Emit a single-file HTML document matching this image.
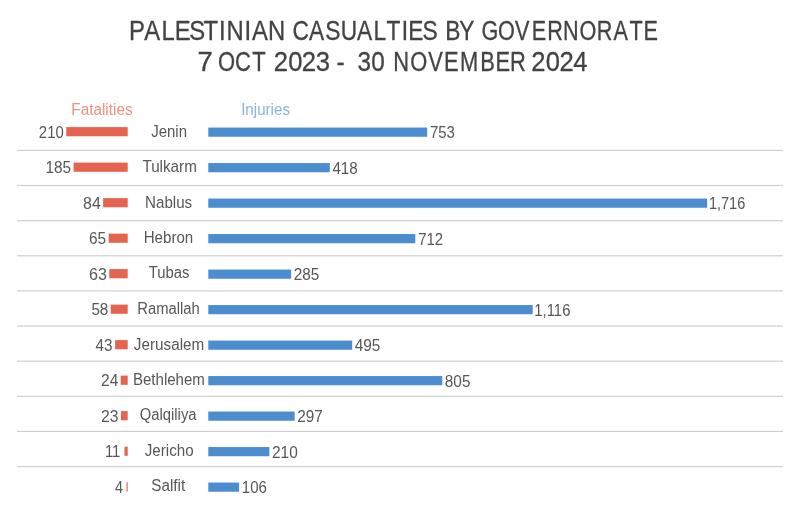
<!DOCTYPE html>
<html><head><meta charset="utf-8"><title>Palestinian casualties by governorate</title>
<style>
html,body{margin:0;padding:0;background:#fff;}
svg{display:block;}
text{font-family:"Liberation Sans",sans-serif;}
text.t{stroke:#434343;stroke-width:0.32px;stroke-linejoin:round;}
</style></head>
<body>
<svg width="799" height="508" viewBox="0 0 799 508">
<rect width="799" height="508" fill="#ffffff"/>
<text class="t" transform="translate(0,39.60) scale(0.8522,1)" x="151.27 169.29 189.61 204.94 222.22 238.71 257.13 265.92 286.82 295.85 314.56" font-size="28" fill="#434343">PALESTINIAN</text>
<text class="t" transform="translate(0,39.60) scale(0.8113,1)" x="360.67 380.76 400.98 419.93 440.11 460.43 476.51 495.25 503.28 520.79" font-size="28" fill="#434343">CASUALTIES</text>
<text class="t" transform="translate(0,39.60) scale(0.8132,1)" x="547.61 564.87" font-size="28" fill="#434343">BY</text>
<text class="t" transform="translate(0,39.60) scale(0.7724,1)" x="623.39 644.60 666.79 688.50 708.45 728.94 750.18 772.72 794.24 814.89 832.97" font-size="28" fill="#434343">GOVERNORATE</text>
<text class="t" transform="translate(0,71.00) scale(0.9812,1)" x="201.22" font-size="28" fill="#434343">7</text>
<text class="t" transform="translate(0,71.00) scale(0.7842,1)" x="277.98 299.71 321.80" font-size="28" fill="#434343">OCT</text>
<text class="t" transform="translate(0,71.00) scale(0.9154,1)" x="299.16 314.82 329.75 344.82" font-size="28" fill="#434343">2023</text>
<text class="t" transform="translate(0,71.00) scale(0.8746,1)" x="384.73" font-size="28" fill="#434343">-</text>
<text class="t" transform="translate(0,71.00) scale(0.8676,1)" x="412.06 428.01" font-size="28" fill="#434343">30</text>
<text class="t" transform="translate(0,71.00) scale(0.7814,1)" x="503.24 524.93 547.90 568.07 588.59 614.61 634.11 652.61" font-size="28" fill="#434343">NOVEMBER</text>
<text class="t" transform="translate(0,71.00) scale(0.9141,1)" x="581.31 596.99 612.16 627.12" font-size="28" fill="#434343">2024</text>
<text transform="translate(71.27,115.00) scale(0.8868,1)" font-size="17.3" fill="#ee9082">Fatalities</text>
<text transform="translate(241.14,115.00) scale(0.8764,1)" font-size="17.3" fill="#89b5df">Injuries</text>
<rect x="66.28" y="127.10" width="61.42" height="9.2" fill="#e5644f"/>
<rect x="208.3" y="127.55" width="218.90" height="9.2" fill="#4b8dce"/>
<text transform="translate(151.18,137.00) scale(0.8658,1)" font-size="17.3" fill="#575757">Jenin</text>
<text transform="translate(38.86,137.50) scale(0.8597,1)" font-size="17.3" fill="#575757">210</text>
<text transform="translate(429.95,138.00) scale(0.8661,1)" font-size="17.3" fill="#575757">753</text>
<rect x="73.59" y="162.60" width="54.11" height="9.2" fill="#e5644f"/>
<rect x="208.3" y="163.05" width="121.51" height="9.2" fill="#4b8dce"/>
<text transform="translate(142.40,171.60) scale(0.8811,1)" font-size="17.3" fill="#575757">Tulkarm</text>
<text transform="translate(45.45,173.00) scale(0.8876,1)" font-size="17.3" fill="#575757">185</text>
<text transform="translate(332.40,173.50) scale(0.8752,1)" font-size="17.3" fill="#575757">418</text>
<rect x="103.13" y="198.10" width="24.57" height="9.2" fill="#e5644f"/>
<rect x="208.3" y="198.55" width="498.84" height="9.2" fill="#4b8dce"/>
<text transform="translate(145.09,207.80) scale(0.8748,1)" font-size="17.3" fill="#575757">Nablus</text>
<text transform="translate(83.08,208.50) scale(0.9215,1)" font-size="17.3" fill="#575757">84</text>
<text transform="translate(708.91,209.00) scale(0.8410,1)" font-size="17.3" fill="#575757">1,716</text>
<rect x="108.69" y="233.60" width="19.01" height="9.2" fill="#e5644f"/>
<rect x="208.3" y="234.05" width="206.98" height="9.2" fill="#4b8dce"/>
<text transform="translate(143.69,243.40) scale(0.8740,1)" font-size="17.3" fill="#575757">Hebron</text>
<text transform="translate(89.03,244.00) scale(0.8897,1)" font-size="17.3" fill="#575757">65</text>
<text transform="translate(418.15,244.50) scale(0.8643,1)" font-size="17.3" fill="#575757">712</text>
<rect x="109.27" y="269.10" width="18.43" height="9.2" fill="#e5644f"/>
<rect x="208.3" y="269.55" width="82.85" height="9.2" fill="#4b8dce"/>
<text transform="translate(148.70,278.30) scale(0.8611,1)" font-size="17.3" fill="#575757">Tubas</text>
<text transform="translate(89.00,279.50) scale(0.9294,1)" font-size="17.3" fill="#575757">63</text>
<text transform="translate(293.63,280.00) scale(0.8882,1)" font-size="17.3" fill="#575757">285</text>
<rect x="110.73" y="304.60" width="16.96" height="9.2" fill="#e5644f"/>
<rect x="208.3" y="305.05" width="324.42" height="9.2" fill="#4b8dce"/>
<text transform="translate(137.22,314.40) scale(0.8557,1)" font-size="17.3" fill="#575757">Ramallah</text>
<text transform="translate(91.39,315.00) scale(0.8811,1)" font-size="17.3" fill="#575757">58</text>
<text transform="translate(534.28,315.50) scale(0.8608,1)" font-size="17.3" fill="#575757">1,116</text>
<rect x="115.12" y="340.10" width="12.58" height="9.2" fill="#e5644f"/>
<rect x="208.3" y="340.55" width="143.90" height="9.2" fill="#4b8dce"/>
<text transform="translate(133.87,349.50) scale(0.8833,1)" font-size="17.3" fill="#575757">Jerusalem</text>
<text transform="translate(95.60,350.50) scale(0.8808,1)" font-size="17.3" fill="#575757">43</text>
<text transform="translate(354.69,351.00) scale(0.8896,1)" font-size="17.3" fill="#575757">495</text>
<rect x="120.68" y="375.60" width="7.02" height="9.2" fill="#e5644f"/>
<rect x="208.3" y="376.05" width="234.01" height="9.2" fill="#4b8dce"/>
<text transform="translate(132.89,385.00) scale(0.8708,1)" font-size="17.3" fill="#575757">Bethlehem</text>
<text transform="translate(101.02,386.00) scale(0.8979,1)" font-size="17.3" fill="#575757">24</text>
<text transform="translate(444.81,386.50) scale(0.8890,1)" font-size="17.3" fill="#575757">805</text>
<rect x="120.97" y="411.10" width="6.73" height="9.2" fill="#e5644f"/>
<rect x="208.3" y="411.55" width="86.34" height="9.2" fill="#4b8dce"/>
<text transform="translate(139.84,420.20) scale(0.8541,1)" font-size="17.3" fill="#575757">Qalqiliya</text>
<text transform="translate(101.02,421.50) scale(0.9067,1)" font-size="17.3" fill="#575757">23</text>
<text transform="translate(297.13,422.00) scale(0.8864,1)" font-size="17.3" fill="#575757">297</text>
<rect x="124.48" y="446.60" width="3.22" height="9.2" fill="#e5644f"/>
<rect x="208.3" y="447.05" width="61.05" height="9.2" fill="#4b8dce"/>
<text transform="translate(144.77,455.90) scale(0.8771,1)" font-size="17.3" fill="#575757">Jericho</text>
<text transform="translate(104.89,457.00) scale(0.8592,1)" font-size="17.3" fill="#575757">11</text>
<text transform="translate(272.03,457.50) scale(0.8927,1)" font-size="17.3" fill="#575757">210</text>
<rect x="126.53" y="482.10" width="1.17" height="9.2" fill="#e5644f"/>
<rect x="208.3" y="482.55" width="30.81" height="9.2" fill="#4b8dce"/>
<text transform="translate(151.31,490.70) scale(0.8817,1)" font-size="17.3" fill="#575757">Salfit</text>
<text transform="translate(115.01,492.50) scale(0.8356,1)" font-size="17.3" fill="#575757">4</text>
<text transform="translate(241.77,493.00) scale(0.8726,1)" font-size="17.3" fill="#575757">106</text>
<rect x="17" y="149.80" width="766" height="1.2" fill="#cfcfcf"/>
<rect x="17" y="184.93" width="766" height="1.2" fill="#cfcfcf"/>
<rect x="17" y="220.06" width="766" height="1.2" fill="#cfcfcf"/>
<rect x="17" y="255.19" width="766" height="1.2" fill="#cfcfcf"/>
<rect x="17" y="290.32" width="766" height="1.2" fill="#cfcfcf"/>
<rect x="17" y="325.45" width="766" height="1.2" fill="#cfcfcf"/>
<rect x="17" y="360.58" width="766" height="1.2" fill="#cfcfcf"/>
<rect x="17" y="395.71" width="766" height="1.2" fill="#cfcfcf"/>
<rect x="17" y="430.84" width="766" height="1.2" fill="#cfcfcf"/>
<rect x="17" y="465.97" width="766" height="1.2" fill="#cfcfcf"/>
</svg>
</body></html>
